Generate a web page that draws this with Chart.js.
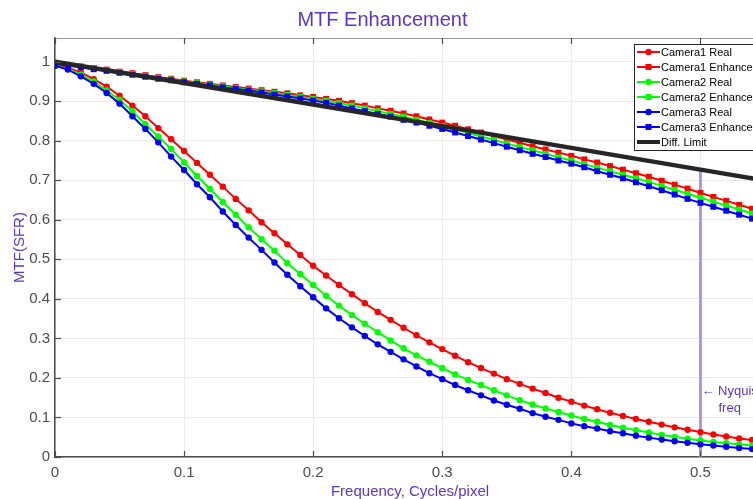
<!DOCTYPE html>
<html>
<head>
<meta charset="utf-8">
<title>MTF Enhancement</title>
<script src="https://cdn.jsdelivr.net/npm/chart.js@4.4.1/dist/chart.umd.min.js"></script>
<style>
  html, body { margin: 0; padding: 0; background: #fff; overflow: hidden; }
  #caja { position: relative; width: 775px; height: 499px; }
</style>
</head>
<body>
<div id="caja"><canvas id="graficaMTF"></canvas></div>
<script>
// Datos
const freq = [0, 0.01, 0.02, 0.03, 0.04, 0.05, 0.06, 0.07, 0.08, 0.09,
  0.10, 0.11, 0.12, 0.13, 0.14, 0.15, 0.16, 0.17, 0.18, 0.19,
  0.20, 0.21, 0.22, 0.23, 0.24, 0.25, 0.26, 0.27, 0.28, 0.29,
  0.30, 0.31, 0.32, 0.33, 0.34, 0.35, 0.36, 0.37, 0.38, 0.39,
  0.40, 0.41, 0.42, 0.43, 0.44, 0.45, 0.46, 0.47, 0.48, 0.49,
  0.50, 0.51, 0.52, 0.53, 0.54, 0.55];

const camera1Real = [0.990, 0.985, 0.973, 0.956, 0.937, 0.914, 0.889, 0.862, 0.832, 0.804,
  0.774, 0.744, 0.714, 0.684, 0.653, 0.624, 0.594, 0.566, 0.538, 0.511,
  0.484, 0.459, 0.435, 0.412, 0.389, 0.367, 0.347, 0.327, 0.308, 0.290,
  0.273, 0.256, 0.240, 0.225, 0.211, 0.197, 0.185, 0.173, 0.162, 0.150,
  0.140, 0.130, 0.121, 0.112, 0.104, 0.096, 0.089, 0.082, 0.075, 0.069,
  0.063, 0.057, 0.052, 0.047, 0.043, 0.039];

const camera1Enh = [0.995, 0.992, 0.988, 0.984, 0.980, 0.975, 0.971, 0.966, 0.961, 0.957,
  0.952, 0.948, 0.944, 0.940, 0.936, 0.932, 0.928, 0.924, 0.920, 0.915,
  0.911, 0.906, 0.901, 0.895, 0.889, 0.882, 0.876, 0.869, 0.862, 0.854,
  0.846, 0.838, 0.829, 0.821, 0.812, 0.803, 0.795, 0.786, 0.778, 0.770,
  0.762, 0.753, 0.745, 0.736, 0.727, 0.718, 0.709, 0.699, 0.689, 0.679,
  0.668, 0.658, 0.648, 0.638, 0.628, 0.618];

const camera2Real = [0.990, 0.982, 0.967, 0.950, 0.927, 0.904, 0.874, 0.842, 0.811, 0.779,
  0.745, 0.711, 0.678, 0.645, 0.613, 0.581, 0.551, 0.522, 0.490, 0.463,
  0.435, 0.408, 0.383, 0.359, 0.337, 0.316, 0.295, 0.275, 0.257, 0.241,
  0.225, 0.209, 0.195, 0.182, 0.169, 0.156, 0.144, 0.133, 0.123, 0.114,
  0.105, 0.096, 0.089, 0.081, 0.074, 0.068, 0.062, 0.056, 0.051, 0.046,
  0.042, 0.038, 0.035, 0.032, 0.029, 0.026];

const camera2Enh = [0.995, 0.991, 0.987, 0.983, 0.978, 0.974, 0.969, 0.964, 0.959, 0.955,
  0.950, 0.946, 0.942, 0.938, 0.933, 0.929, 0.925, 0.921, 0.916, 0.911,
  0.906, 0.901, 0.895, 0.889, 0.882, 0.875, 0.868, 0.861, 0.853, 0.845,
  0.837, 0.829, 0.820, 0.811, 0.802, 0.793, 0.784, 0.776, 0.767, 0.758,
  0.750, 0.741, 0.732, 0.723, 0.714, 0.705, 0.696, 0.686, 0.676, 0.666,
  0.656, 0.646, 0.636, 0.626, 0.616, 0.606];

const camera3Real = [0.990, 0.980, 0.963, 0.944, 0.921, 0.894, 0.862, 0.830, 0.796, 0.760,
  0.726, 0.690, 0.657, 0.621, 0.587, 0.555, 0.524, 0.492, 0.461, 0.432,
  0.404, 0.376, 0.351, 0.328, 0.306, 0.285, 0.266, 0.247, 0.229, 0.212,
  0.197, 0.182, 0.169, 0.156, 0.143, 0.132, 0.122, 0.111, 0.102, 0.094,
  0.085, 0.078, 0.072, 0.065, 0.060, 0.054, 0.049, 0.044, 0.040, 0.036,
  0.032, 0.029, 0.026, 0.023, 0.020, 0.018];

const camera3Enh = [0.995, 0.990, 0.986, 0.981, 0.977, 0.972, 0.967, 0.962, 0.957, 0.953,
  0.948, 0.944, 0.940, 0.935, 0.931, 0.927, 0.922, 0.917, 0.912, 0.907,
  0.902, 0.896, 0.889, 0.882, 0.875, 0.868, 0.861, 0.853, 0.846, 0.838,
  0.830, 0.821, 0.812, 0.803, 0.794, 0.785, 0.776, 0.767, 0.759, 0.750,
  0.742, 0.733, 0.723, 0.714, 0.705, 0.695, 0.685, 0.675, 0.664, 0.653,
  0.643, 0.633, 0.623, 0.613, 0.603, 0.593];

// Límite de difracción (línea recta sin marcadores)
const diffFreq = [0, 0.1, 0.2, 0.3, 0.4, 0.5, 0.6];
const diffLimit = [1.0, 0.946, 0.892, 0.837, 0.782, 0.727, 0.672];

// Nyquist
const nyquistFreq = 0.5;
const nyquistTop = 0.73;

const xTicks = [0, 0.1, 0.2, 0.3, 0.4, 0.5];
const yTicks = [0, 0.1, 0.2, 0.3, 0.4, 0.5, 0.6, 0.7, 0.8, 0.9, 1];

const morado = "#5b34c9";
const gris = "#4d4d4d";

Chart.defaults.font.family = '"Liberation Sans", Arial, sans-serif';

function serie(label, color, valores, estilo, orden) {
  return {
    label: label,
    data: freq.map((f, i) => ({ x: f, y: valores[i] })),
    borderColor: color,
    backgroundColor: color,
    pointBackgroundColor: color,
    pointBorderColor: color,
    borderWidth: 2,
    pointStyle: estilo,
    pointRadius: estilo === "rect" ? 4.2 : 3.2,
    pointBorderWidth: 0,
    order: orden
  };
}

/* PLUGIN: borde superior, ticks hacia dentro, leyenda y texto Nyquist */
const extras = {
  id: "extras",
  afterDatasetsDraw(chart) {
    const { ctx, chartArea, scales } = chart;
    const a = chartArea;
    ctx.save();

    // borde superior
    ctx.strokeStyle = "#9a9a9a";
    ctx.lineWidth = 1;
    ctx.beginPath();
    ctx.moveTo(a.left, a.top + 0.5);
    ctx.lineTo(a.right, a.top + 0.5);
    ctx.stroke();

    // ticks hacia dentro
    ctx.strokeStyle = gris;
    ctx.lineWidth = 1.2;
    xTicks.forEach(v => {
      const px = Math.round(scales.x.getPixelForValue(v)) + 0.5;
      ctx.beginPath();
      ctx.moveTo(px, a.bottom);
      ctx.lineTo(px, a.bottom - 6);
      ctx.moveTo(px, a.top);
      ctx.lineTo(px, a.top + 6);
      ctx.stroke();
    });
    yTicks.forEach(v => {
      const py = Math.round(scales.y.getPixelForValue(v)) + 0.5;
      ctx.beginPath();
      ctx.moveTo(a.left, py);
      ctx.lineTo(a.left + 6, py);
      ctx.stroke();
    });

    // texto Nyquist
    const nx = scales.x.getPixelForValue(nyquistFreq);
    ctx.fillStyle = morado;
    ctx.font = '13px "Liberation Sans", Arial, sans-serif';
    ctx.textBaseline = "middle";
    ctx.textAlign = "left";
    ctx.fillText("\u2190 Nyquist", nx + 1, scales.y.getPixelForValue(0.167));
    ctx.fillText("freq", nx + 18, scales.y.getPixelForValue(0.124));

    // leyenda
    const bx = a.right - 131;
    const by = a.top + 6;
    ctx.fillStyle = "#ffffff";
    ctx.fillRect(bx, by, 150, 106);
    ctx.strokeStyle = "#262626";
    ctx.lineWidth = 1;
    ctx.strokeRect(bx + 0.5, by + 0.5, 150, 106);

    ctx.font = '11px "Liberation Sans", Arial, sans-serif';
    const entradas = chart.data.datasets.filter(d => d.label);
    entradas.forEach((d, i) => {
      const y = by + 8 + i * 15;
      ctx.strokeStyle = d.borderColor;
      ctx.lineWidth = d.label === "Diff. Limit" ? 4 : 2;
      ctx.beginPath();
      ctx.moveTo(bx + 3, y);
      ctx.lineTo(bx + 26, y);
      ctx.stroke();
      ctx.fillStyle = d.borderColor;
      if (d.pointStyle === "circle") {
        ctx.beginPath();
        ctx.arc(bx + 14.5, y, 3.2, 0, Math.PI * 2);
        ctx.fill();
      } else if (d.pointStyle === "rect") {
        ctx.fillRect(bx + 11.5, y - 3, 6, 6);
      }
      ctx.fillStyle = "#000000";
      ctx.fillText(d.label, bx + 27, y + 0.5);
    });

    ctx.restore();
  }
};

const ctx = document.getElementById("graficaMTF");

new Chart(ctx, {
  type: "line",
  data: {
    datasets: [
      serie("Camera1 Real", "#ff0000", camera1Real, "circle", 6),
      serie("Camera1 Enhanced", "#ff0000", camera1Enh, "rect", 5),
      serie("Camera2 Real", "#00ff00", camera2Real, "circle", 4),
      serie("Camera2 Enhanced", "#00ff00", camera2Enh, "rect", 3),
      serie("Camera3 Real", "#0000ff", camera3Real, "circle", 2),
      serie("Camera3 Enhanced", "#0000ff", camera3Enh, "rect", 1),
      {
        label: "Diff. Limit",
        data: diffFreq.map((f, i) => ({ x: f, y: diffLimit[i] })),
        borderColor: "#262626",
        backgroundColor: "#262626",
        borderWidth: 4.5,
        pointRadius: 0,
        pointStyle: false,
        order: 0
      },
      {
        label: "",
        data: [{ x: nyquistFreq, y: 0 }, { x: nyquistFreq, y: nyquistTop }],
        borderColor: "#a996f2",
        borderWidth: 3,
        pointRadius: 0,
        order: 7
      }
    ]
  },
  options: {
    responsive: true,
    maintainAspectRatio: false,
    animation: false,
    events: [],
    layout: { padding: { left: 0, right: 10, top: 0, bottom: 0 } },
    plugins: {
      legend: { display: false },
      tooltip: { enabled: false },
      title: {
        display: true,
        text: "MTF Enhancement",
        color: morado,
        font: { size: 20, weight: "normal", lineHeight: 1.2 },
        padding: { top: 8, bottom: 6 }
      }
    },
    scales: {
      x: {
        type: "linear",
        min: 0,
        max: 0.55,
        afterFit: s => { s.height = 42; },
        afterBuildTicks: s => { s.ticks = xTicks.map(v => ({ value: v })); },
        grid: { color: "#ebebeb", drawTicks: false },
        border: { color: gris, width: 1.5 },
        ticks: {
          color: gris,
          font: { size: 15 },
          padding: 7,
          maxRotation: 0,
          callback: v => String(Number(v.toFixed(1)))
        },
        title: {
          display: true,
          text: "Frequency, Cycles/pixel",
          color: morado,
          font: { size: 15, lineHeight: 1.0 },
          padding: { top: 0, bottom: 0 }
        }
      },
      y: {
        min: 0,
        max: 1.06,
        afterFit: s => { s.width = 55; },
        afterBuildTicks: s => { s.ticks = yTicks.map(v => ({ value: v })); },
        grid: { color: "#ebebeb", drawTicks: false },
        border: { color: gris, width: 1.5 },
        ticks: {
          color: gris,
          font: { size: 15 },
          padding: 5,
          callback: v => String(Number(v.toFixed(1)))
        },
        title: {
          display: true,
          text: "MTF(SFR)",
          color: morado,
          font: { size: 15, lineHeight: 1.2 },
          padding: { top: 11, bottom: 0 }
        }
      }
    }
  },
  plugins: [extras]
});
</script>
</body>
</html>
